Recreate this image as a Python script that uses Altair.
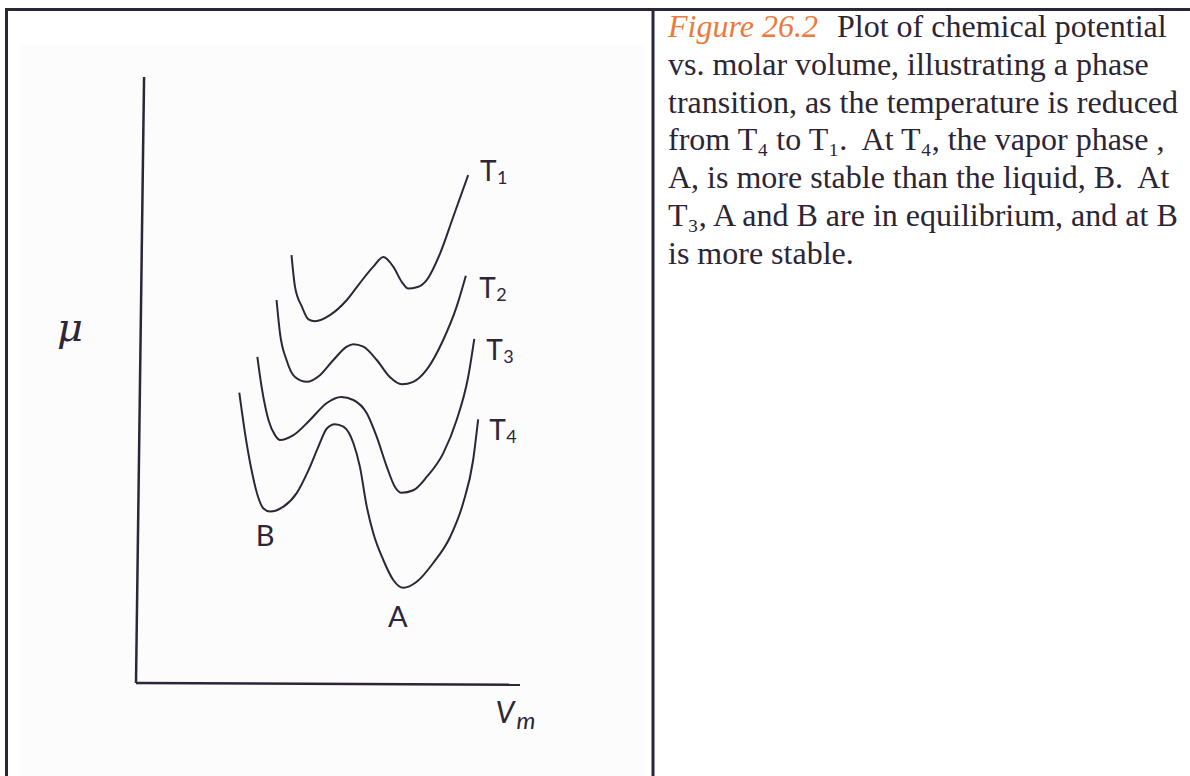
import altair as alt
import pandas as pd

# Chemical potential (mu) against molar volume (Vm) for four isotherms.
# Plot units: Vm and mu both run 0-100 across the drawn axes.
t1_v = [40.5, 41.4, 43.2, 44.9, 46.6, 50.5, 54.9, 58.3, 61.8, 64.4, 67.0, 69.2, 70.9, 73.1, 75.7, 79.2, 82.6, 86.5]
t1_mu = [70.6, 65.4, 62.1, 60.0, 59.7, 60.7, 63.2, 66.0, 68.7, 70.3, 68.7, 66.2, 65.1, 65.3, 66.5, 70.9, 76.9, 83.8]

t2_v = [36.6, 37.5, 39.2, 41.4, 44.5, 47.9, 51.4, 54.9, 56.6, 59.2, 62.7, 66.1, 69.2, 72.2, 75.7, 80.0, 83.5, 85.9]
t2_mu = [63.2, 57.7, 53.3, 50.5, 49.7, 50.8, 53.3, 55.5, 55.9, 55.5, 53.3, 50.5, 49.3, 49.7, 51.7, 56.6, 62.1, 67.2]

t3_v = [31.6, 32.7, 34.5, 36.2, 37.5, 41.0, 45.3, 49.7, 53.4, 56.6, 60.1, 62.7, 65.3, 67.4, 69.2, 72.2, 75.7, 80.0, 83.5, 86.5, 88.1]
t3_mu = [53.8, 48.9, 43.4, 40.9, 40.1, 40.9, 43.4, 46.2, 47.2, 46.7, 44.5, 40.6, 35.7, 32.4, 31.4, 31.8, 34.0, 37.9, 43.4, 50.5, 56.8]

t4_v = [26.9, 28.4, 30.1, 31.8, 33.2, 34.9, 38.4, 41.8, 44.9, 47.5, 49.7, 51.8, 54.0, 56.6, 58.3, 60.1, 61.8, 64.4, 67.0, 69.6, 73.1, 77.4, 81.8, 85.2, 87.8, 89.1]
t4_mu = [47.9, 41.2, 35.1, 30.7, 28.8, 28.3, 29.1, 31.3, 35.1, 39.0, 42.0, 42.7, 42.3, 39.6, 35.7, 29.1, 24.7, 20.3, 17.0, 15.7, 16.7, 19.8, 24.1, 29.7, 36.8, 43.5]

# Axis lines of the sketch (slightly hand-drawn)
yaxis_v = [2.1, 0.0]
yaxis_mu = [100.0, 0.0]
xaxis_v = [0.0, 100.0]
xaxis_mu = [0.0, -0.3]

# Isotherm labels: letter plus subscript digit
iso_letter = ["T", "T", "T", "T"]
iso_digit = ["1", "2", "3", "4"]
iso_v = [89.6, 89.4, 91.2, 92.0]
iso_mu = [84.2, 64.9, 54.6, 41.4]

# Phase labels
phase_text = ["B", "A"]
phase_v = [33.6, 68.2]
phase_mu = [24.1, 10.7]

caption_first = "Plot of chemical potential"
caption_lines = [
    "vs. molar volume, illustrating a phase",
    "transition, as the temperature is reduced",
    "from T\u2084 to T\u2081.\u00a0 At T\u2084, the vapor phase ,",
    "A, is more stable than the liquid, B.\u00a0 At",
    "T\u2083, A and B are in equilibrium, and at B",
    "is more stable.",
]

INK = "#2d2638"
TEXT = "#2b2535"
ORANGE = "#ec7a3c"

rows = []
for name, vs, mus in [("T1", t1_v, t1_mu), ("T2", t2_v, t2_mu),
                      ("T3", t3_v, t3_mu), ("T4", t4_v, t4_mu)]:
    for i, (v, m) in enumerate(zip(vs, mus)):
        rows.append({"series": name, "idx": i, "V": v, "mu": m})
curves = pd.DataFrame(rows)

axes_rows = []
for name, vs, mus in [("yaxis", yaxis_v, yaxis_mu), ("xaxis", xaxis_v, xaxis_mu)]:
    for i, (v, m) in enumerate(zip(vs, mus)):
        axes_rows.append({"series": name, "idx": i, "V": v, "mu": m})
axes_df = pd.DataFrame(axes_rows)

iso_labels = pd.DataFrame({"letter": iso_letter, "digit": iso_digit, "V": iso_v, "mu": iso_mu})
phase_labels = pd.DataFrame({"text": phase_text, "V": phase_v, "mu": phase_mu})

xs = alt.Scale(domain=[0, 100], nice=False, zero=False)
ys = alt.Scale(domain=[0, 100], nice=False, zero=False)
X = alt.X("V:Q", scale=xs, axis=None)
Y = alt.Y("mu:Q", scale=ys, axis=None)

one = pd.DataFrame({"k": [0]})

# page furniture: light image panel and table borders
panel = alt.Chart(one).mark_rect(color="#fcfcfc").encode(
    x=alt.value(-116), x2=alt.value(509), y=alt.value(-32), y2=alt.value(699)
)
top_border = alt.Chart(one).mark_rule(color=INK, strokeWidth=3).encode(
    x=alt.value(-130), x2=alt.value(1054), y=alt.value(-67.5)
)
left_border = alt.Chart(one).mark_rule(color=INK, strokeWidth=3).encode(
    x=alt.value(-129.5), y=alt.value(-69), y2=alt.value(699)
)
divider = alt.Chart(one).mark_rule(color=INK, strokeWidth=3).encode(
    x=alt.value(517), y=alt.value(-69), y2=alt.value(699)
)

axis_lines = alt.Chart(axes_df).mark_line(color=INK, strokeWidth=2.5).encode(
    x=X, y=Y, detail="series:N", order="idx:Q"
)

isotherms = alt.Chart(curves).mark_line(
    color=INK, strokeWidth=2, interpolate="monotone"
).encode(x=X, y=Y, detail="series:N", order="idx:Q")

iso_letters = alt.Chart(iso_labels).mark_text(
    font="Lato", fontSize=28, color=INK, align="left", baseline="middle"
).encode(x=X, y=Y, text="letter:N")

iso_digits = alt.Chart(iso_labels).mark_text(
    font="Lato", fontSize=18, color=INK, align="left", baseline="middle", dx=17, dy=6
).encode(x=X, y=Y, text="digit:N")

phase_marks = alt.Chart(phase_labels).mark_text(
    font="Lato", fontSize=29, color=INK, align="center", baseline="middle"
).encode(x=X, y=Y, text="text:N")

mu_label = alt.Chart(one).mark_text(
    text="\u03bc", font="DejaVu Serif", fontStyle="italic", fontSize=40,
    color=INK, align="center", baseline="middle"
).encode(x=alt.value(-66), y=alt.value(252))

vm_v = alt.Chart(one).mark_text(
    text="V", font="Lato", fontStyle="italic", fontSize=30,
    color=INK, align="center", baseline="middle"
).encode(x=alt.value(369), y=alt.value(637))

vm_m = alt.Chart(one).mark_text(
    text="m", font="Lato", fontStyle="italic", fontSize=24,
    color=INK, align="center", baseline="middle"
).encode(x=alt.value(390), y=alt.value(645))

fig_tag = alt.Chart(one).mark_text(
    text="Figure 26.2", font="Liberation Serif", fontStyle="italic", fontSize=32,
    color=ORANGE, align="left", baseline="alphabetic"
).encode(x=alt.value(532), y=alt.value(-40))

caption_head = alt.Chart(one).mark_text(
    text=caption_first, font="Liberation Serif", fontSize=32,
    color=TEXT, align="left", baseline="alphabetic"
).encode(x=alt.value(701), y=alt.value(-40))

caption_body = alt.Chart(one).mark_text(
    text=caption_lines, font="Liberation Serif", fontSize=32, lineHeight=37.8,
    color=TEXT, align="left", baseline="alphabetic"
).encode(x=alt.value(532), y=alt.value(-2.2))

chart = alt.layer(
    panel, top_border, left_border, divider, axis_lines, isotherms,
    iso_letters, iso_digits, phase_marks, mu_label, vm_v, vm_m,
    fig_tag, caption_head, caption_body
).properties(
    width=384,
    height=606,
    autosize="none",
    padding={"left": 136, "top": 77, "right": 670, "bottom": 93},
    background="white",
).configure_view(stroke=None)

chart.save("out.html", embed_options={"renderer": "svg", "actions": False})
